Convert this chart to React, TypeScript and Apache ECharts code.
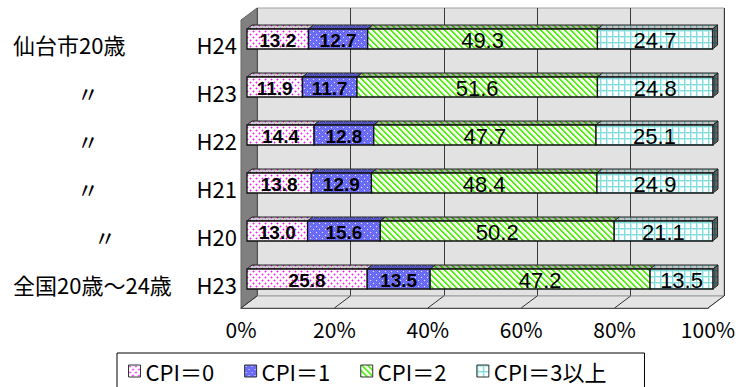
import React, { useEffect, useRef } from 'react';
import * as echarts from 'echarts';

const categories = ['H24', 'H23', 'H22', 'H21', 'H20', 'H23'];
const groupLabels = ['仙台市20歳', '〃', '〃', '〃', '〃', '全国20歳～24歳'];
const seriesNames = ['CPI＝0', 'CPI＝1', 'CPI＝2', 'CPI＝3以上'];
const cpi0 = [13.2, 11.9, 14.4, 13.8, 13.0, 25.8];
const cpi1 = [12.7, 11.7, 12.8, 12.9, 15.6, 13.5];
const cpi2 = [49.3, 51.6, 47.7, 48.4, 50.2, 47.2];
const cpi3 = [24.7, 24.8, 25.1, 24.9, 21.1, 13.5];
const xTicks = [0, 20, 40, 60, 80, 100];

const seriesValues = [cpi0, cpi1, cpi2, cpi3];

const JP = "'Noto Sans CJK JP', 'Noto Sans', sans-serif";
const NUM = "'Liberation Sans', Arial, sans-serif";

type RGB = [number, number, number];

function makeTile(w: number, h: number, fn: (x: number, y: number) => RGB, shade = 1) {
  const c = document.createElement('canvas');
  c.width = w;
  c.height = h;
  const ctx = c.getContext('2d')!;
  const img = ctx.createImageData(w, h);
  for (let y = 0; y < h; y++) {
    for (let x = 0; x < w; x++) {
      const [r, g, b] = fn(x, y);
      const i = (y * w + x) * 4;
      img.data[i] = Math.round(r * shade);
      img.data[i + 1] = Math.round(g * shade);
      img.data[i + 2] = Math.round(b * shade);
      img.data[i + 3] = 255;
    }
  }
  ctx.putImageData(img, 0, 0);
  return { image: c.toDataURL(), repeat: 'repeat', imageWidth: w, imageHeight: h } as any;
}

const pinkFn = (x: number, y: number): RGB => {
  if ((x === 1 && y === 1) || (x === 4 && y === 4)) return [250, 20, 250];
  if (
    (Math.abs(x - 1) + Math.abs(y - 1) === 1) ||
    (Math.abs(x - 4) + Math.abs(y - 4) === 1)
  )
    return [255, 160, 255];
  return [255, 255, 255];
};
const blueFn = (x: number, y: number): RGB => {
  if ((x === 1 && y === 1) || (x === 4 && y === 4)) return [220, 220, 255];
  if ((x + y) % 2 === 0) return [95, 95, 240];
  return [120, 120, 250];
};
const greenFn = (x: number, y: number): RGB => {
  const d = (((x - y) % 6) + 6) % 6;
  if (d < 2) return [90, 235, 30];
  if (d === 2) return [180, 250, 140];
  return [250, 255, 245];
};
const cyanFn = (x: number, y: number): RGB => {
  if (x === 0 || y === 0) return [130, 220, 220];
  if (x === 1 || y === 1) return [200, 240, 240];
  return [255, 255, 255];
};

const DX = 5;
const DY = -4;

export default function App() {
  const ref = useRef<HTMLDivElement>(null);

  useEffect(() => {
    if (!ref.current) return;
    const chart = echarts.init(ref.current, null, { renderer: 'svg' });

    const fns = [pinkFn, blueFn, greenFn, cyanFn];
    const front = fns.map((f) => makeTile(6, 6, f));
    const topShade = [0.8, 0.78, 0.7, 0.76];
    const topFaces = fns.map((f, i) => makeTile(6, 6, f, topShade[i]));
    const side = makeTile(6, 6, cyanFn, 0.4);

    const barSeries = seriesValues.map((vals, idx) => {
      const data = categories.map((_, i) => {
        let start = 0;
        for (let k = 0; k < idx; k++) start += seriesValues[k][i];
        return [start, start + vals[i], i, vals[i]];
      });
      const bold = idx < 2;
      return {
        type: 'custom',
        name: seriesNames[idx],
        xAxisIndex: 2,
        yAxisIndex: 3,
        z: 3,
        encode: { x: [0, 1], y: 2 },
        data,
        renderItem: (params: any, api: any) => {
          const s = api.value(0);
          const e = api.value(1);
          const row = api.value(2);
          const v = api.value(3);
          const p0 = api.coord([s, row]);
          const p1 = api.coord([e, row]);
          const bh = (api.size([0, 1])[1] * 20) / 48;
          const x0 = p0[0];
          const x1 = p1[0];
          const top = p0[1] - bh / 2;
          const bot = p0[1] + bh / 2;
          const children: any[] = [
            {
              type: 'polygon',
              shape: { points: [[x0, top], [x0 + DX, top + DY], [x1 + DX, top + DY], [x1, top]] },
              style: { fill: topFaces[idx], stroke: '#222', lineWidth: 1 },
            },
            {
              type: 'rect',
              shape: { x: x0, y: top, width: x1 - x0, height: bh },
              style: { fill: front[idx], stroke: '#111', lineWidth: 1.3 },
            },
          ];
          if (idx === seriesValues.length - 1) {
            children.push({
              type: 'polygon',
              shape: { points: [[x1, top], [x1 + DX, top + DY], [x1 + DX, bot + DY], [x1, bot]] },
              style: { fill: side, stroke: '#222', lineWidth: 1 },
            });
          }
          children.push({
            type: 'text',
            style: {
              text: v.toFixed(1),
              x: (x0 + x1) / 2,
              y: p0[1] + 1,
              align: 'center',
              verticalAlign: 'middle',
              fontSize: bold ? 19 : 22,
              fontWeight: bold ? 'bold' : 'normal',
              fontFamily: NUM,
              fill: '#000',
            },
          });
          return { type: 'group', children };
        },
      };
    });

    const decorSeries = {
      type: 'custom',
      name: 'decor',
      xAxisIndex: 1,
      yAxisIndex: 1,
      z: 1,
      silent: true,
      encode: { x: 0 },
      data: xTicks.map((t) => [t, 0]),
      renderItem: (params: any, api: any) => {
        const cs = params.coordSys;
        const bx = cs.y + cs.height;
        const px = api.coord([api.value(0), 0])[0];
        const children: any[] = [];
        if (params.dataIndex === 0) {
          children.push({
            type: 'polygon',
            shape: {
              points: [
                [cs.x, bx],
                [cs.x + cs.width, bx],
                [cs.x + cs.width + 16, bx - 12],
                [cs.x + 16, bx - 12],
              ],
            },
            style: { fill: '#e4e4e4', stroke: '#999', lineWidth: 1 },
          });
          children.push({
            type: 'polygon',
            shape: {
              points: [
                [cs.x, cs.y],
                [cs.x + 16, cs.y - 12],
                [cs.x + 16, bx - 12],
                [cs.x, bx],
              ],
            },
            style: { fill: '#808080', stroke: '#666', lineWidth: 1 },
          });
        }
        children.push({
          type: 'line',
          shape: { x1: px, y1: bx, x2: px + 16, y2: bx - 12 },
          style: { stroke: '#333', lineWidth: 1 },
        });
        return { type: 'group', children };
      },
    };

    const option: any = {
      animation: false,
      backgroundColor: '#fff',
      grid: [
        { left: 257, top: 8, width: 467, height: 288, show: true, backgroundColor: '#e2e2e2', borderColor: '#a0a0a0', borderWidth: 1 },
        { left: 241, top: 20, width: 467, height: 288 },
        { left: 247, top: 15, width: 466, height: 288 },
      ],
      xAxis: [
        {
          gridIndex: 0, type: 'value', min: 0, max: 100, interval: 20,
          axisLabel: { show: false }, axisLine: { show: false }, axisTick: { show: false },
          splitLine: { show: true, lineStyle: { color: '#3a3a3a', width: 1 } },
        },
        {
          gridIndex: 1, type: 'value', min: 0, max: 100, interval: 20,
          axisLabel: { formatter: '{value}%', fontSize: 21, color: '#000', fontFamily: JP, margin: 10 },
          axisLine: { show: true, lineStyle: { color: '#000', width: 1 } },
          axisTick: { show: true, inside: true, length: 5, lineStyle: { color: '#000' } },
          splitLine: { show: false },
        },
        { gridIndex: 2, type: 'value', min: 0, max: 100, show: false },
      ],
      yAxis: [
        { gridIndex: 0, type: 'category', data: categories, inverse: true, show: false },
        {
          gridIndex: 1, type: 'category', data: categories, inverse: true,
          axisLine: { show: true, lineStyle: { color: '#000', width: 1 } },
          axisTick: { show: true, inside: true, length: 6, lineStyle: { color: '#000' } },
          axisLabel: { fontSize: 22, color: '#000', fontFamily: JP, margin: 4 },
          splitLine: { show: false },
        },
        {
          gridIndex: 1, type: 'category', data: groupLabels, inverse: true, position: 'left',
          axisLine: { show: false }, axisTick: { show: false },
          axisLabel: {
            align: 'left', margin: 228, color: '#000',
            formatter: (val: string, i: number) => (i === 4 ? `{c|${val}}` : i === 0 || i === 5 ? `{a|${val}}` : `{b|${val}}`),
            rich: {
              a: { fontSize: 22, fontFamily: JP, color: '#000' },
              b: { fontSize: 22, fontFamily: JP, color: '#000', padding: [0, 0, 0, 64] },
              c: { fontSize: 22, fontFamily: JP, color: '#000', padding: [0, 0, 0, 81] },
            },
          },
        },
        { gridIndex: 2, type: 'category', data: categories, inverse: true, show: false },
      ],
      legend: {
        left: 117,
        top: 353,
        orient: 'horizontal',
        itemWidth: 12,
        itemHeight: 12,
        itemGap: 30,
        borderColor: '#000',
        borderWidth: 1,
        padding: [7, 38, 30, 11],
        textStyle: { fontSize: 22, fontFamily: JP, color: '#000' },
        data: seriesNames.map((n, i) => ({
          name: n,
          icon: 'rect',
          itemStyle: { color: front[i], borderColor: '#333', borderWidth: 1 },
        })),
      },
      series: [decorSeries, ...barSeries],
    };

    chart.setOption(option);
    return () => chart.dispose();
  }, []);

  return <div ref={ref} style={{ position: 'absolute', left: 0, top: 0, width: 751, height: 387 }} />;
}
